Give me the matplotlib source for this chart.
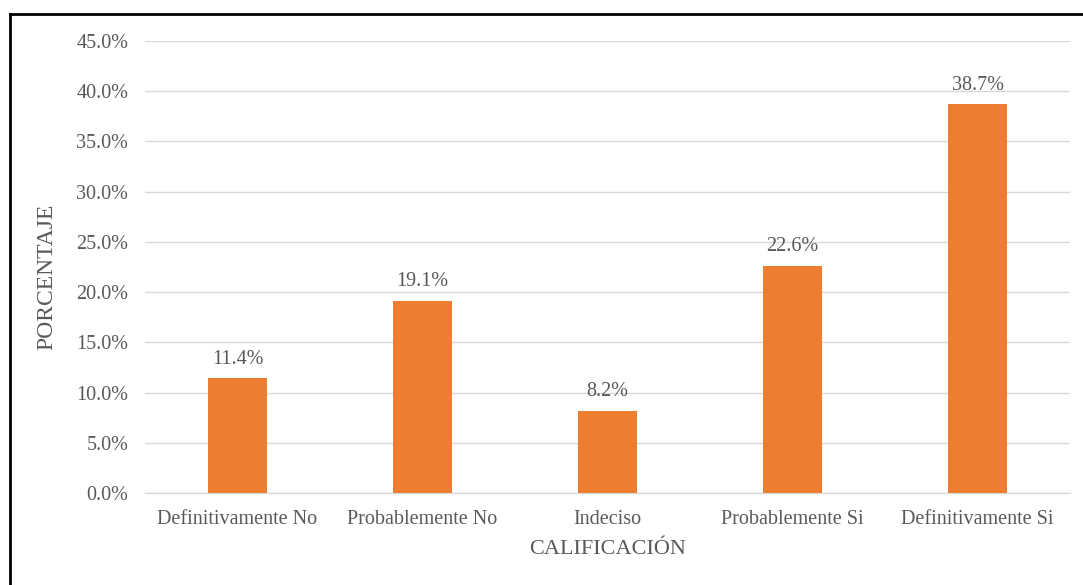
import matplotlib
matplotlib.use("Agg")
import matplotlib.pyplot as plt
from matplotlib.lines import Line2D
from matplotlib.ticker import FuncFormatter

categories = ["Definitivamente No", "Probablemente No", "Indeciso",
              "Probablemente Si", "Definitivamente Si"]
percentages = [11.4, 19.1, 8.2, 22.6, 38.7]
y_ticks = [0, 5, 10, 15, 20, 25, 30, 35, 40, 45]

BAR = "#ED7D31"
TEXT = "#595959"
GRID = "#D9D9D9"

plt.rcParams["font.family"] = ["Liberation Serif", "DejaVu Serif"]

fig = plt.figure(figsize=(10.83, 5.85), dpi=100)
ax = fig.add_axes([0.1339, 0.1573, 0.988 - 0.1339, 0.930 - 0.1573])

x = range(len(categories))
bars = ax.bar(x, percentages, width=0.315, color=BAR, zorder=3)

for rect, val in zip(bars, percentages):
    ax.annotate(f"{val:.1f}%", (rect.get_x() + rect.get_width() / 2, val),
                xytext=(0, 7), textcoords="offset points",
                ha="center", va="bottom", fontsize=14.5, color=TEXT)

ax.set_xlim(-0.5, len(categories) - 0.5)
ax.set_ylim(0, 45)
ax.set_yticks(y_ticks)
ax.yaxis.set_major_formatter(FuncFormatter(lambda v, _: f"{v:.1f}%"))
ax.set_xticks(list(x))
ax.set_xticklabels(categories)

ax.grid(axis="y", color=GRID, linewidth=1, zorder=0)
for side in ["top", "right", "left"]:
    ax.spines[side].set_visible(False)
ax.spines["bottom"].set_color(GRID)
ax.spines["bottom"].set_linewidth(1)

ax.tick_params(axis="both", length=0, colors=TEXT, labelsize=14.5)
ax.tick_params(axis="x", pad=12)
ax.tick_params(axis="y", pad=12)

ax.set_xlabel("CALIFICACIÓN", fontsize=16, color=TEXT, labelpad=8)
ax.set_ylabel("PORCENTAJE", fontsize=17, color=TEXT)
ax.yaxis.set_label_coords(-0.095, 0.478)

# black frame along top and left edges
fig.add_artist(Line2D([10 / 1083, 1], [1 - 14 / 585, 1 - 14 / 585],
                      transform=fig.transFigure, color="black", linewidth=2))
fig.add_artist(Line2D([10 / 1083, 10 / 1083], [0, 1 - 14 / 585],
                      transform=fig.transFigure, color="black", linewidth=2))

fig.savefig("out.png", dpi=100)
